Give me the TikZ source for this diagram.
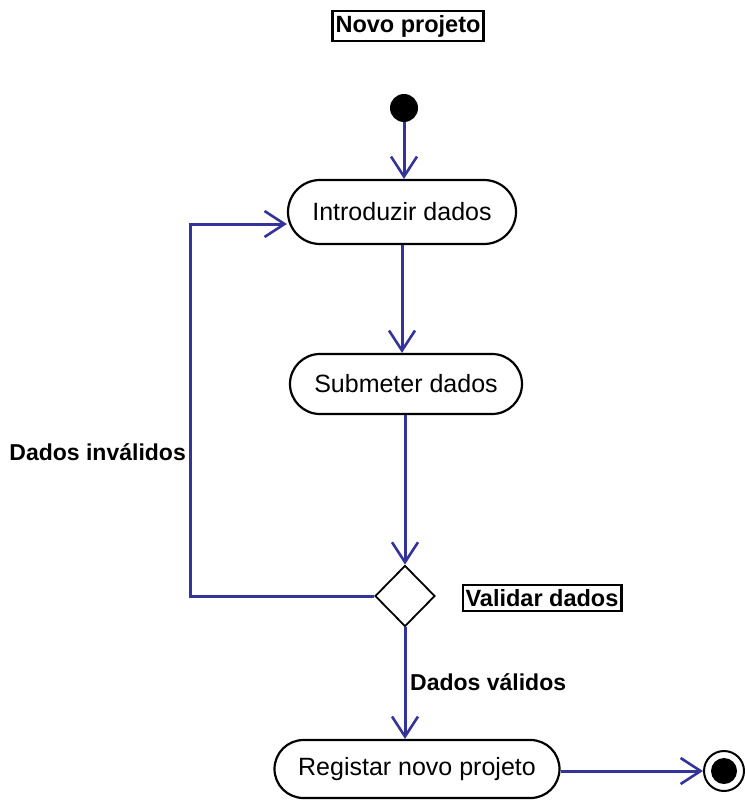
\documentclass[tikz,border=0pt]{standalone}
\usepackage{fontspec}
\setmainfont{Liberation Sans}
\usetikzlibrary{shapes.misc,shapes.geometric,arrows.meta}
\definecolor{flow}{RGB}{51,51,153}
\tikzset{
  activity/.style={rounded rectangle, draw=black, line width=2.2pt, fill=white,
    inner sep=0pt, font=\fontsize{25}{28}\selectfont},
  caption/.style={draw=black, line width=2.2pt, inner xsep=3pt, inner ysep=4pt,
    font=\fontsize{23.5}{26}\selectfont\bfseries},
  guard/.style={font=\fontsize{23}{26}\selectfont\bfseries, inner sep=0pt},
  flowline/.style={draw=flow, line width=3pt,
    -{Straight Barb[length=20pt,width=26pt,line width=2.6pt]}},
  decision/.style={diamond, draw=black, line width=1.8pt, fill=white,
    minimum width=60pt, minimum height=61pt, inner sep=0pt, aspect=1},
}
\begin{document}
\begin{tikzpicture}[x=1pt,y=-1pt]
\useasboundingbox (0,0) rectangle (744,800);

% title
\node[caption] (title) at (408,26) {Novo projeto};

% start and end states
\node[circle, fill=black, minimum size=28pt, inner sep=0pt] (start) at (404,108) {};
\node[circle, draw=black, line width=2pt, fill=white, minimum size=40pt, inner sep=0pt,
  path picture={\fill[black] (path picture bounding box.center) circle (13pt);}] (finish) at (724,771) {};

% activities
\node[activity, minimum width=228pt, minimum height=64pt] (intro) at (402,212) {Introduzir dados};
\node[activity, minimum width=232pt, minimum height=60pt] (submit) at (406,384) {Submeter dados};
\node[decision] (check) at (405,596) {};
\node[caption] (checklbl) at (542,598) {Validar dados};
\node[activity, minimum width=285pt, minimum height=58pt] (register) at (417,769) {Registar novo projeto};

% corners of the loop back
\coordinate (loopA) at (190,596);
\coordinate (loopB) at (190,224);

% flows
\draw[flowline] (start) -- (intro.north -| start);
\draw[flowline] (intro.south -| 402,0) -- (submit.north -| 402,0);
\draw[flowline] (submit.south -| check) -- (check.north);
\draw[flowline] (check.west) -- (loopA) -- (loopB) -- (intro.west |- loopB);
\draw[flowline] (check.south) -- (register.north -| check);
\draw[flowline] (register.east |- finish) -- (finish.west);

% guard labels
\node[guard, anchor=east] (bad) at (186,452) {Dados inválidos};
\node[guard, anchor=west] (good) at (410,682) {Dados válidos};
\end{tikzpicture}
\end{document}
